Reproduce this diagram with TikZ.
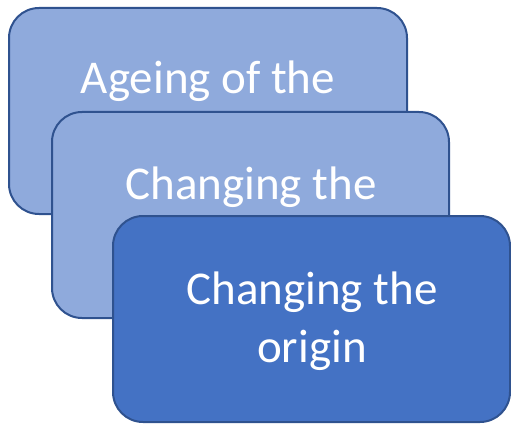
\documentclass[tikz,border=0pt]{standalone}
\usepackage{fontspec}
\setmainfont{Carlito}
\definecolor{lightfill}{HTML}{8FAADC}
\definecolor{darkfill}{HTML}{4472C4}
\definecolor{edge}{HTML}{2F528F}
\begin{document}
\begin{tikzpicture}[x=1pt,y=-1pt,
  card/.style={draw=edge, line width=2pt, rounded corners=30pt},
  cardtext/.style={text=white, font=\fontsize{47}{58}\selectfont, anchor=base, inner sep=0pt}]
  \useasboundingbox (0,0) rectangle (511,425);
  % back card
  \filldraw[card, fill=lightfill] (9,8) rectangle (407,214);
  \node[cardtext] (t1) at (208,94) {Ageing of the};
  % middle card
  \filldraw[card, fill=lightfill] (52,112) rectangle (449,318);
  \node[cardtext] (t2) at (251,199) {Changing the};
  % front card
  \filldraw[card, fill=darkfill] (113,216) rectangle (510,422);
  \node[cardtext] (t3a) at (312,304) {Changing the};
  \node[cardtext] (t3b) at (312,362) {origin};
\end{tikzpicture}
\end{document}
